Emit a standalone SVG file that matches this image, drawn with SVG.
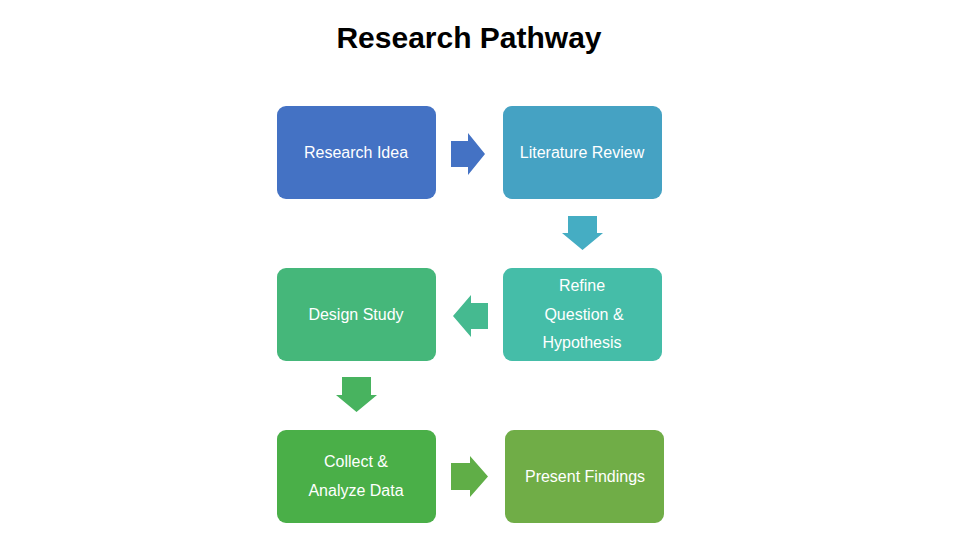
<svg xmlns="http://www.w3.org/2000/svg" width="960" height="540" viewBox="0 0 960 540">
<style>
.t{font-family:"Liberation Sans",Arial,sans-serif;font-size:16px;fill:#fff;text-anchor:middle}
.h{font-family:"Liberation Sans",Arial,sans-serif;font-size:30px;font-weight:bold;fill:#000;text-anchor:middle}
</style>
<rect width="960" height="540" fill="#fff"/>
<text class="h" x="469" y="48">Research Pathway</text>
<g id="n1"><rect x="277" y="106" width="159" height="93" rx="9" fill="#4472C4"/><text class="t" x="356" y="158">Research Idea</text></g>
<g id="n2"><rect x="503" y="106" width="159" height="93" rx="9" fill="#45A2C3"/><text class="t" x="582" y="158">Literature Review</text></g>
<g id="n3"><rect x="503" y="268" width="159" height="93" rx="9" fill="#45BDA8"/><text class="t" x="582" y="291">Refine</text><text class="t" x="584" y="320">Question &amp;</text><text class="t" x="582" y="348">Hypothesis</text></g>
<g id="n4"><rect x="277" y="268" width="159" height="93" rx="9" fill="#45B77A"/><text class="t" x="356" y="320">Design Study</text></g>
<g id="n5"><rect x="277" y="430" width="159" height="93" rx="9" fill="#4AAF48"/><text class="t" x="356" y="467">Collect &amp;</text><text class="t" x="356" y="496">Analyze Data</text></g>
<g id="n6"><rect x="505" y="430" width="159" height="93" rx="9" fill="#70AD47"/><text class="t" x="585" y="482">Present Findings</text></g>
<g id="connectors">
<polygon points="451,141 468,141 468,133 485,154 468,175 468,167 451,167" fill="#4472C4"/>
<polygon points="568,216 597,216 597,233 603,233 582.5,250 562,233 568,233" fill="#45ADC3"/>
<polygon points="488,303 471,303 471,295 453,316 471,337 471,329 488,329" fill="#45BA90"/>
<polygon points="342,377 371,377 371,395 377,395 356.5,412 336,395 342,395" fill="#48B35F"/>
<polygon points="451,463 470,463 470,456 488,476.5 470,497 470,490 451,490" fill="#60AE47"/>
</g>
</svg>
